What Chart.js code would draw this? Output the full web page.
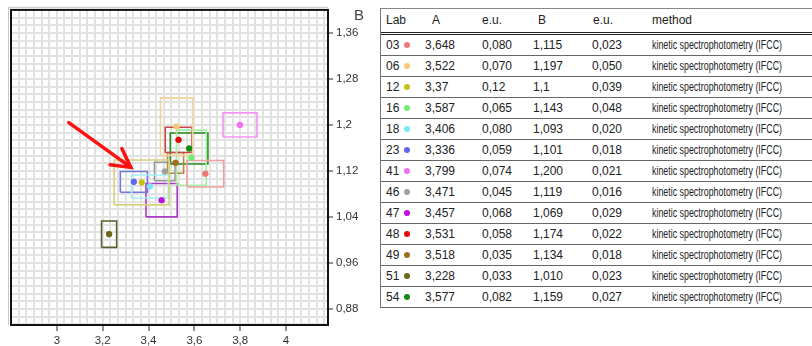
<!DOCTYPE html>
<html>
<head>
<meta charset="utf-8">
<script src="https://cdn.jsdelivr.net/npm/chart.js@4"></script>
<style>
  body { margin: 0; background: #fff; width: 812px; height: 346px; overflow: hidden; position: relative; font-family: "Liberation Sans", Arial, sans-serif; color: #222; }
  #plot { position: absolute; left: 0; top: 0; }
  #results { position: absolute; left: 380px; top: 8px; width: 432px; border-left: 1px solid #777; border-top: 1px solid #888; font-size: 12px; }
  #results .row { position: relative; height: 20px; line-height: 20px; border-bottom: 1px solid #666; }
  #results .head { height: 23px; line-height: 23px; border-bottom: 3px double #222; }
  #results span { position: absolute; top: 0; white-space: nowrap; }
  #results .dot { position: static; display: inline-block; width: 6px; height: 6px; border-radius: 50%; margin-left: 5px; vertical-align: 1px; }
  #results .method { font-size: 12.5px; transform-origin: 0 50%; }
</style>
</head>
<body>
<canvas id="plot" width="378" height="346"></canvas>
<div id="results"></div>
<script>
// Lab results: A and B with their expanded uncertainties, as printed in the table
const labs = ['03', '06', '12', '16', '18', '23', '41', '46', '47', '48', '49', '51', '54'];
const aText = ['3,648', '3,522', '3,37', '3,587', '3,406', '3,336', '3,799', '3,471', '3,457', '3,531', '3,518', '3,228', '3,577'];
const aUncText = ['0,080', '0,070', '0,12', '0,065', '0,080', '0,059', '0,074', '0,045', '0,068', '0,058', '0,035', '0,033', '0,082'];
const bText = ['1,115', '1,197', '1,1', '1,143', '1,093', '1,101', '1,200', '1,119', '1,069', '1,174', '1,134', '1,010', '1,159'];
const bUncText = ['0,023', '0,050', '0,039', '0,048', '0,020', '0,018', '0,021', '0,016', '0,029', '0,022', '0,018', '0,023', '0,027'];
const method = 'kinetic spectrophotometry (IFCC)';

const labColors = ['#f07878', '#f8c878', '#c8c018', '#70ee70', '#78e8f8', '#6464ec', '#f070f0', '#a0a0a0', '#c010e0', '#e00808', '#a07018', '#686818', '#108c10'];
const boxColors = ['#eda0a0', '#f2d49a', '#d6d27a', '#a6eea6', '#a6eef8', '#7676d6', '#f294f2', '#969696', '#a83cc8', '#c84848', '#b08c3c', '#5c5c30', '#208c20'];

// axis ticks
const xTicks = [3, 3.2, 3.4, 3.6, 3.8, 4];
const yTicks = [0.88, 0.96, 1.04, 1.12, 1.2, 1.28, 1.36];

// arrow pointing at lab 23 (in data units)
const arrowFrom = { x: 3.052, y: 1.204 };
const arrowTo = { x: 3.323, y: 1.126 };

const num = s => parseFloat(s.replace(',', '.'));
const fmt = v => String(+v.toFixed(4)).replace('.', ',');

const aVals = aText.map(num), aUnc = aUncText.map(num);
const bVals = bText.map(num), bUnc = bUncText.map(num);

// ---- table ----
const table = document.getElementById('results');
const head = document.createElement('div');
head.className = 'row head';
head.innerHTML = '<span style="left:5px">Lab</span><span style="left:51px">A</span>' +
  '<span style="left:101px">e.u.</span><span style="left:157px">B</span>' +
  '<span style="left:212px">e.u.</span><span style="left:271px">method</span>';
table.appendChild(head);
labs.forEach((lab, i) => {
  const row = document.createElement('div');
  row.className = 'row';
  row.innerHTML = '<span style="left:5px">' + lab + '<i class="dot" style="background:' + labColors[i] + '"></i></span>' +
    '<span style="left:44px">' + aText[i] + '</span>' +
    '<span style="left:101px">' + aUncText[i] + '</span>' +
    '<span style="left:152px">' + bText[i] + '</span>' +
    '<span style="left:211px">' + bUncText[i] + '</span>' +
    '<span class="method" style="left:271px">' + method + '</span>';
  table.appendChild(row);
});
// the method column is set in a condensed face: squeeze it to 130px
document.querySelectorAll('#results .method').forEach(el => {
  el.style.transform = 'scaleX(' + (130 / el.getBoundingClientRect().width) + ')';
});

// ---- chart ----
Chart.defaults.font.family = '"Liberation Sans", Arial, sans-serif';
Chart.defaults.font.size = 11.5;
Chart.defaults.color = '#333';

// uncertainty rectangles: A ± u(A) by B ± u(B)
const boxSets = labs.map((lab, i) => {
  const x0 = aVals[i] - aUnc[i], x1 = aVals[i] + aUnc[i];
  const y0 = bVals[i] - bUnc[i], y1 = bVals[i] + bUnc[i];
  return {
    label: 'box ' + lab,
    data: [{ x: x0, y: y0 }, { x: x1, y: y0 }, { x: x1, y: y1 }, { x: x0, y: y1 }, { x: x0, y: y0 }],
    showLine: true,
    borderColor: boxColors[i],
    borderWidth: 1.6,
    pointRadius: 0,
    fill: false
  };
});

const pointSet = {
  label: 'labs',
  data: labs.map((lab, i) => ({ x: aVals[i], y: bVals[i] })),
  backgroundColor: labColors,
  borderColor: labColors,
  borderWidth: 1,
  pointRadius: 2.8
};

// fine grid: six cells per labelled step
function fineTicks(step, anchor) {
  return function (scale) {
    const k0 = Math.ceil((scale.min - anchor) / step - 1e-6);
    const k1 = Math.floor((scale.max - anchor) / step + 1e-6);
    const ticks = [];
    for (let k = k0; k <= k1; k++) ticks.push({ value: anchor + k * step });
    scale.ticks = ticks;
  };
}
const isMajor = (list, v) => list.some(t => Math.abs(t - v) < 1e-6);

const frame = {
  id: 'frame',
  afterDraw(chart) {
    const { ctx, chartArea: a, scales } = chart;
    ctx.save();
    // light bevel on top / left
    ctx.strokeStyle = '#c8c8c8';
    ctx.lineWidth = 1;
    ctx.beginPath();
    ctx.moveTo(a.left - 2.5, a.bottom);
    ctx.lineTo(a.left - 2.5, a.top - 2.5);
    ctx.lineTo(a.right, a.top - 2.5);
    ctx.stroke();
    ctx.strokeStyle = '#111';
    ctx.lineWidth = 2;
    ctx.strokeRect(a.left, a.top, a.right - a.left, a.bottom - a.top);

    // arrow
    const x1 = scales.x.getPixelForValue(arrowFrom.x), y1 = scales.y.getPixelForValue(arrowFrom.y);
    const x2 = scales.x.getPixelForValue(arrowTo.x), y2 = scales.y.getPixelForValue(arrowTo.y);
    const ang = Math.atan2(y1 - y2, x1 - x2);
    ctx.strokeStyle = '#ff1010';
    ctx.lineWidth = 3.5;
    ctx.lineCap = 'round';
    ctx.beginPath();
    ctx.moveTo(x1, y1);
    ctx.lineTo(x2, y2);
    ctx.moveTo(x2 + 21 * Math.cos(ang + 0.5), y2 + 21 * Math.sin(ang + 0.5));
    ctx.lineTo(x2, y2);
    ctx.lineTo(x2 + 21 * Math.cos(ang - 0.5), y2 + 21 * Math.sin(ang - 0.5));
    ctx.stroke();

    // axis name
    ctx.fillStyle = '#444';
    ctx.font = '15px "Liberation Sans", Arial, sans-serif';
    ctx.textBaseline = 'top';
    ctx.fillText('B', 354, 8);
    ctx.restore();
  }
};

new Chart(document.getElementById('plot'), {
  type: 'scatter',
  data: { datasets: [pointSet].concat(boxSets) },
  options: {
    responsive: false,
    animation: false,
    layout: { padding: { left: 11, top: 9, right: 0, bottom: 0 } },
    plugins: { legend: { display: false }, tooltip: { enabled: false } },
    scales: {
      x: {
        type: 'linear',
        min: 2.8,
        max: 4.183,
        afterBuildTicks: fineTicks(0.2 / 6, 3),
        afterFit(scale) { scale.height = 21; },
        border: { display: false },
        grid: {
          color: '#e2e2e2',
          lineWidth: 2,
          tickLength: 6,
          tickWidth: 1,
          tickColor: c => isMajor(xTicks, c.tick.value) ? '#222' : 'rgba(0,0,0,0)'
        },
        ticks: {
          autoSkip: false,
          maxRotation: 0,
          padding: 3,
          callback: v => isMajor(xTicks, v) ? fmt(v) : ''
        }
      },
      y: {
        type: 'linear',
        position: 'right',
        min: 0.852,
        max: 1.40,
        afterBuildTicks: fineTicks(0.08 / 6, 0.88),
        afterFit(scale) { scale.width = 50; },
        border: { display: false },
        grid: {
          color: '#e2e2e2',
          lineWidth: 2,
          tickLength: 5,
          tickWidth: 1,
          tickColor: c => isMajor(yTicks, c.tick.value) ? '#222' : 'rgba(0,0,0,0)'
        },
        ticks: {
          autoSkip: false,
          padding: 3,
          callback: v => isMajor(yTicks, v) ? fmt(v) : ''
        }
      }
    }
  },
  plugins: [frame]
});
</script>
</body>
</html>
